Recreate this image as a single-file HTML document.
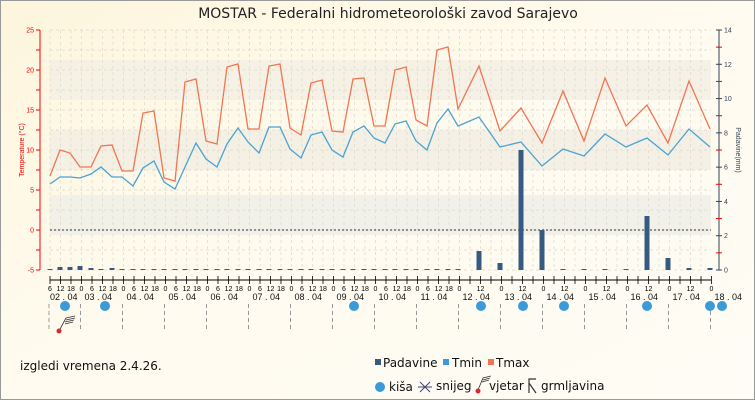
<!DOCTYPE html>
<html><head><meta charset="utf-8"><style>
html,body{margin:0;padding:0;background:#fff}
svg{display:block;font-family:"Liberation Sans","DejaVu Sans",sans-serif}
</style></head><body>
<svg id="s" width="755" height="400" viewBox="0 0 755 400" xmlns="http://www.w3.org/2000/svg">
<defs>
<linearGradient id="bg" x1="0" y1="0" x2="1" y2="1">
<stop offset="0" stop-color="#fdf5dc"/><stop offset="0.5" stop-color="#fffbf0"/><stop offset="1" stop-color="#fefcf4"/>
</linearGradient>
</defs>
<rect x="0.5" y="0.5" width="754" height="399" fill="url(#bg)" stroke="#999"/>
<text x="388" y="18" font-size="14" text-anchor="middle" fill="#222" font-family="DejaVu Sans, sans-serif">MOSTAR - Federalni hidrometeorološki zavod Sarajevo</text>
<rect x="50" y="60" width="661" height="40" fill="#f3efe4" opacity="0.8"/>
<rect x="50" y="130" width="661" height="40" fill="#f1ede2" opacity="0.8"/>
<rect x="50" y="195" width="661" height="40" fill="#f1efe8" opacity="0.9"/>
<g id="grid"></g>
<line x1="50" y1="230" x2="711" y2="230" stroke="#333" stroke-dasharray="2,2"/>
<g id="bars" fill="#365a82"></g>
<polyline id="tmax" fill="none" stroke="#f27552" stroke-width="1.3"/>
<polyline id="tmin" fill="none" stroke="#4aa3d3" stroke-width="1.3"/>
<g id="ax"></g>
<text transform="translate(24,150) rotate(-90)" font-size="7" fill="#e00" text-anchor="middle">Temperature (°C)</text>
<text transform="translate(736,150) rotate(90)" font-size="7" fill="#345" text-anchor="middle">Padavine(mm)</text>
<g id="wx"></g>
<path d="M59,331 L66,318 M66,318 L75,316 M66,320 L75,318 M65,322 L74,320 M65,324 L73,322" stroke="#333" stroke-width="0.8" fill="none"/>
<circle cx="59" cy="331" r="2.5" fill="#e0262a"/>
<text x="20" y="370" font-size="12" fill="#111" font-family="DejaVu Sans, sans-serif">izgledi vremena 2.4.26.</text>
<g font-size="12" fill="#111" font-family="DejaVu Sans, sans-serif">
<rect x="375" y="359" width="6" height="6" fill="#365a82"/><text x="383" y="367">Padavine</text>
<rect x="443" y="359" width="6" height="6" fill="#3b9ad8"/><text x="452" y="367">Tmin</text>
<rect x="488" y="359" width="6" height="6" fill="#f27552"/><text x="496" y="367">Tmax</text>
<circle cx="380" cy="387" r="5" fill="#3b9ad8"/><text x="389" y="391">kiša</text>
<path d="M420,382 L430,392 M430,382 L420,392 M418,387 L432,387" stroke="#447" stroke-width="1"/><text x="436" y="390">snijeg</text>
<path d="M478,390 L483,378 L491,376 M483,380 L490,378 M482,382 L489,380" stroke="#333" stroke-width="0.8" fill="none"/><circle cx="478" cy="391" r="2.5" fill="#e0262a"/><text x="489" y="390">vjetar</text>
<path d="M529,393 L529,379 L536,379 M529,383 L536,393" stroke="#333" stroke-width="1.2" fill="none"/><text x="541" y="390">grmljavina</text>
</g>
</svg>
<script>
const NS="http://www.w3.org/2000/svg";
function el(p,t,a,txt){const e=document.createElementNS(NS,t);for(const k in a)e.setAttribute(k,a[k]);if(txt!==undefined)e.textContent=txt;document.getElementById(p).appendChild(e);return e;}
// grid
for(let x=50;x<=711;x+=10.5)el('grid','line',{x1:x,y1:30,x2:x,y2:270,stroke:'#ddd8cc','stroke-width':0.7,'stroke-dasharray':'3,3'});
for(let y=30;y<=270;y+=20)el('grid','line',{x1:50,y1:y,x2:711,y2:y,stroke:'#ddd8cc','stroke-width':0.7,'stroke-dasharray':'3,3'});
const xmax=[50,60,70,80,91,101,112,122,133,143,154,164,175,185,196,206,217,227,238,248,259,269,280,290,301,311,322,332,343,353,364,374,385,395,406,416,427,437,448,458,479,500,521,542,563,584,605,626,647,668,689,710];
const ymax=[176,150,153,167,167,146,145,171,171,113,111,178,181,82,79,141,144,67,64,129,129,66,64,128,135,83,80,131,132,79,78,126,126,70,67,120,126,50,47,109,66,131,108,143,91,141,78,126,105,143,81,129];
const ymin=[184,177,177,178,174,167,177,177,186,168,161,182,189,167,143,159,167,144,128,142,153,127,127,149,158,135,132,150,157,132,126,138,143,124,121,141,150,123,109,126,117,147,142,166,149,156,134,147,138,155,129,147];
document.getElementById('tmax').setAttribute('points',xmax.map((x,i)=>x+','+ymax[i]).join(' '));
document.getElementById('tmin').setAttribute('points',xmax.map((x,i)=>x+','+ymin[i]).join(' '));
// bars
const big={60:267,70:267,80:266,91:268,112:268,479:251,500:263,521:150,542:230,647:216,668:258,689:268,710:268};
for(let x=50;x<=711;x+=10.5){let k=Math.round(x);}
const bx=[50,60,70,80,91,101,112,122,133,143,154,164,175,185,196,206,217,227,238,248,259,269,280,290,301,311,322,332,343,353,364,374,385,395,406,416,427,437,448,458,479,500,521,542,563,584,605,626,647,668,689,710];
bx.forEach(x=>{const t=big[x]||269;el('bars','rect',{x:x-2.5,y:t,width:5,height:270-t});});
// left axis
el('ax','line',{x1:40,y1:30,x2:40,y2:270,stroke:'#f00'});
for(let v=-5;v<=25;v+=2.5){const y=230-v*8;el('ax','line',{x1:36,y1:y,x2:40,y2:y,stroke:'#f00'});
 if(v%5==0)el('ax','text',{x:34,y:y+2.5,'font-size':7,fill:'#f00','text-anchor':'end'},v);}
// right axis
el('ax','line',{x1:719,y1:30,x2:719,y2:270,stroke:'#345'});
for(let v=0;v<=14;v++){const y=270-v*240/14;el('ax','line',{x1:716,y1:y,x2:722,y2:y,stroke:v%2?'#e00':'#345'});
 if(v%2==0)el('ax','text',{x:724,y:y+2.5,'font-size':7,fill:'#345'},v);}
// time axis
el('ax','line',{x1:50,y1:280,x2:711,y2:280,stroke:'#000'});
for(let h=0;h<=378;h+=6){const x=50+h*1.75;el('ax','line',{x1:x,y1:276,x2:x,y2:284,stroke:'#000','stroke-width':0.8});
 const hr=(h+6)%24;const day=Math.floor((h+6)/24);
 let lab=true; if(day>=10&&(hr==6||hr==18))lab=false;
 if(lab)el('ax','text',{x:x,y:291,'font-size':7,'text-anchor':'middle',fill:'#000'},hr);}
for(let d=0;d<=16;d++){const x0=50+(d*24-6)*1.75;const name=String(d+2).padStart(2,'0')+' . 04';
 el('ax','text',{x:Math.max(50,x0+3),y:300,'font-size':9,fill:'#111'},name);
 if(d>0)el('ax','line',{x1:x0-1,y1:304,x2:x0-1,y2:332,stroke:'#999','stroke-dasharray':'4,3'});}
el('ax','line',{x1:49,y1:304,x2:49,y2:332,stroke:'#999','stroke-dasharray':'4,3'});
[65,105,354,481,523,564,647,710,722].forEach(x=>el('wx','circle',{cx:x,cy:306,r:5,fill:'#3b9ad8'}));
</script>
</body></html>
